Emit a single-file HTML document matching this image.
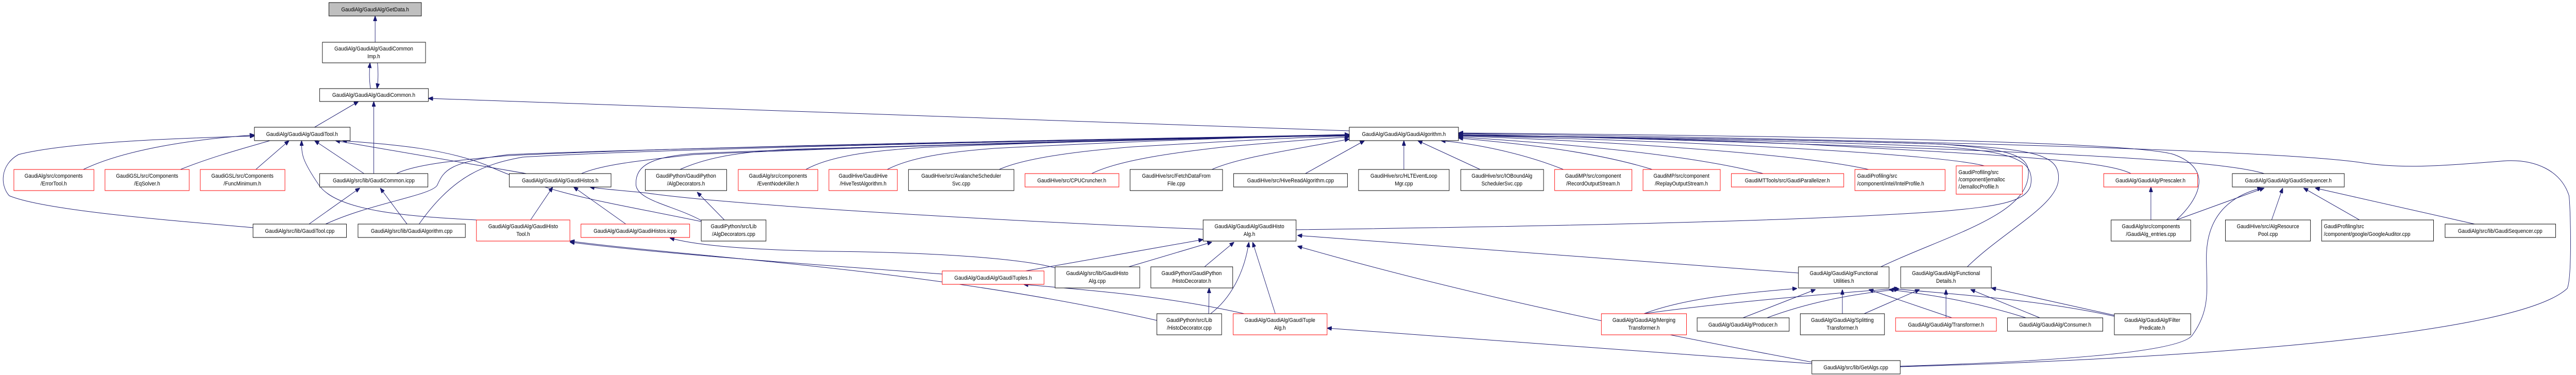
<!DOCTYPE html>
<html><head><meta charset="utf-8"><style>
html,body{margin:0;padding:0;background:#fff;width:100%;height:100%;overflow:hidden;}
svg{display:block;width:100vw;height:100vh;}
text{font-family:"Liberation Sans",Arial,sans-serif;font-size:11px;fill:#000;}
.b{fill:#fff;stroke:#000;stroke-width:1;}
.r{fill:#fff;stroke:#ff0000;stroke-width:1;}
.e{fill:none;stroke:#191970;stroke-width:1;}
</style></head><body>
<svg viewBox="0 0 5569 728" preserveAspectRatio="none" xmlns="http://www.w3.org/2000/svg" overflow="hidden">
<defs>
<marker id="a" markerWidth="10" markerHeight="8" refX="10" refY="4" orient="auto" markerUnits="userSpaceOnUse">
<path d="M0,0 L10,4 L0,8 z" fill="#191970" stroke="#191970"/>
</marker>
</defs>
<g marker-end="url(#a)" class="e">
<path d="M811,82 L811,31"/>
<path d="M801,172 C798,155 798,140 800,122"/>
<path d="M816,122 C818,140 818,155 815,172"/>
<path d="M680,247 L775,197"/>
<path d="M808,337 L808,197"/>
<path d="M2917,254 L926,191"/>
<path d="M180,329 C270,290 420,270 550,262"/>
<path d="M390,329 C470,300 560,280 610,266"/>
<path d="M553,329 L625,273"/>
<path d="M547,442 C400,430 100,410 20,380 C0,360 0,320 40,300 C150,275 400,268 550,264"/>
<path d="M787,337 L680,273"/>
<path d="M1030,427 C880,420 730,410 690,360 C652,310 652,300 652,273"/>
<path d="M1138,337 L725,273"/>
<path d="M1516,430 C1300,390 1200,380 1050,320 C950,285 830,280 740,273"/>
<path d="M668,435 L778,365"/>
<path d="M880,435 L822,365"/>
<path d="M704,435 C800,395 930,380 945,360 C960,330 970,315 1100,300 C1500,285 2600,268 2917,262"/>
<path d="M906,435 C980,340 1050,318 1130,305 C1500,285 2600,268 2917,262"/>
<path d="M857,337 C900,318 1000,310 1100,302 C1600,280 2600,268 2917,261"/>
<path d="M1257,337 C1300,320 1380,312 1500,300 C2000,280 2600,268 2917,263"/>
<path d="M1516,428 C1460,400 1380,390 1375,360 C1372,320 1410,305 1500,298 C2000,280 2600,268 2917,262"/>
<path d="M1470,329 C1530,305 1600,295 1700,290 C2200,275 2700,265 2917,262"/>
<path d="M1742,329 C1800,300 1900,292 2000,286 C2400,272 2700,265 2917,262"/>
<path d="M1918,329 C1970,305 2050,295 2150,288 C2500,272 2750,265 2917,263"/>
<path d="M2160,329 C2220,305 2350,292 2450,285 C2700,272 2820,266 2917,264"/>
<path d="M2360,337 C2420,310 2550,295 2650,285 C2800,273 2870,268 2917,266"/>
<path d="M2620,329 C2680,305 2800,290 2917,270"/>
<path d="M2822,337 L2950,273"/>
<path d="M3035,329 L3035,273"/>
<path d="M3200,329 L3065,273"/>
<path d="M3380,329 C3300,300 3200,280 3115,273"/>
<path d="M3572,329 C3450,295 3300,280 3153,268"/>
<path d="M3812,337 C3650,300 3400,280 3153,266"/>
<path d="M4040,329 C3900,300 3500,275 3153,264"/>
<path d="M4290,322 C4200,300 3700,275 3153,263"/>
<path d="M4607,337 C4550,310 4300,300 3900,280 C3600,268 3300,264 3153,262"/>
<path d="M4895,337 C4800,310 4400,290 3153,260"/>
<path d="M4705,427 C4750,390 4790,330 4700,300 C4600,270 3600,262 3153,258"/>
<path d="M4108,712 C4600,700 5430,660 5550,560 C5560,540 5558,420 5554,380 C5536,330 5480,310 5420,312 C5300,320 5200,330 5100,315 C4900,290 4000,270 3153,259"/>
<path d="M4108,711 C4500,700 4720,680 4740,650 C4780,600 4770,560 4770,500 C4770,420 4820,380 4890,365"/>
<path d="M4066,518 C4200,460 4380,420 4385,340 C4390,300 4340,290 4200,280 C3800,268 3300,265 3153,262"/>
<path d="M4253,518 C4330,450 4445,400 4450,350 C4455,300 4400,290 4200,280 C3800,268 3300,265 3153,262"/>
<path d="M2802,446 C3300,440 3900,430 4200,410 C4330,400 4380,390 4390,360 C4400,310 4350,295 4200,285 C3800,270 3300,265 3153,263"/>
<path d="M1147,427 L1195,363"/>
<path d="M1353,435 L1240,363"/>
<path d="M2601,445 C2200,430 1600,400 1400,375 C1350,370 1310,368 1275,363"/>
<path d="M1566,427 L1507,373"/>
<path d="M2037,532 C1700,510 1400,490 1232,470"/>
<path d="M2501,622 C2000,520 1500,500 1232,468"/>
<path d="M2281,520 C2200,500 2000,490 1800,488 C1600,485 1500,475 1448,462"/>
<path d="M2217,526 L2601,465"/>
<path d="M2440,518 L2620,470"/>
<path d="M2604,518 L2668,470"/>
<path d="M2617,609 C2660,580 2690,530 2700,470"/>
<path d="M2757,609 L2708,470"/>
<path d="M3888,530 L2805,457"/>
<path d="M3917,703 C3600,650 3200,580 2805,478"/>
<path d="M2613,609 L2614,559"/>
<path d="M2690,609 C2500,570 2300,560 2213,552"/>
<path d="M3917,706 L2869,637"/>
<path d="M3554,609 C3640,580 3750,570 3885,560"/>
<path d="M3554,609 C3700,590 3950,570 4105,560"/>
<path d="M3768,617 L3925,562"/>
<path d="M3820,617 C3900,590 4000,570 4105,562"/>
<path d="M3983,609 L3983,562"/>
<path d="M4030,609 L4150,562"/>
<path d="M4220,617 L4040,562"/>
<path d="M4207,617 L4207,562"/>
<path d="M4380,617 C4250,580 4150,570 4084,562"/>
<path d="M4410,617 L4260,562"/>
<path d="M4571,614 C4400,580 4200,570 4090,560"/>
<path d="M4571,612 L4305,559"/>
<path d="M4650,427 L4650,363"/>
<path d="M4705,427 L4895,365"/>
<path d="M4911,427 L4935,365"/>
<path d="M5101,427 L4980,365"/>
<path d="M5350,435 L5005,365"/>
</g>

<rect x="711" y="5" width="200" height="26" fill="#bfbfbf" stroke="#000"/>
<text x="811" y="22" text-anchor="middle">GaudiAlg/GaudiAlg/GetData.h</text>

<rect class="b" x="697" y="82" width="223" height="40"/>
<text x="808" y="98" text-anchor="middle">GaudiAlg/GaudiAlg/GaudiCommon</text>
<text x="808" y="113" text-anchor="middle">Imp.h</text>

<rect class="b" x="691" y="172" width="235" height="25"/>
<text x="808" y="188" text-anchor="middle">GaudiAlg/GaudiAlg/GaudiCommon.h</text>

<rect class="b" x="550" y="247" width="207" height="26"/>
<text x="653" y="264" text-anchor="middle">GaudiAlg/GaudiAlg/GaudiTool.h</text>

<rect class="r" x="30" y="329" width="173" height="41"/>
<text x="116" y="345" text-anchor="middle">GaudiAlg/src/components</text>
<text x="116" y="360" text-anchor="middle">/ErrorTool.h</text>

<rect class="r" x="227" y="329" width="182" height="41"/>
<text x="318" y="345" text-anchor="middle">GaudiGSL/src/Components</text>
<text x="318" y="360" text-anchor="middle">/EqSolver.h</text>

<rect class="r" x="433" y="329" width="183" height="41"/>
<text x="524" y="345" text-anchor="middle">GaudiGSL/src/Components</text>
<text x="524" y="360" text-anchor="middle">/FuncMinimum.h</text>

<rect class="b" x="691" y="337" width="234" height="26"/>
<text x="808" y="354" text-anchor="middle">GaudiAlg/src/lib/GaudiCommon.icpp</text>

<rect class="b" x="1101" y="337" width="220" height="26"/>
<text x="1211" y="354" text-anchor="middle">GaudiAlg/GaudiAlg/GaudiHistos.h</text>

<rect class="b" x="547" y="435" width="202" height="26"/>
<text x="648" y="452" text-anchor="middle">GaudiAlg/src/lib/GaudiTool.cpp</text>

<rect class="b" x="774" y="435" width="232" height="26"/>
<text x="890" y="452" text-anchor="middle">GaudiAlg/src/lib/GaudiAlgorithm.cpp</text>

<rect class="r" x="1030" y="427" width="202" height="41"/>
<text x="1131" y="443" text-anchor="middle">GaudiAlg/GaudiAlg/GaudiHisto</text>
<text x="1131" y="458" text-anchor="middle">Tool.h</text>

<rect class="r" x="1256" y="435" width="235" height="26"/>
<text x="1373" y="452" text-anchor="middle">GaudiAlg/GaudiAlg/GaudiHistos.icpp</text>

<rect class="b" x="1395" y="329" width="176" height="41"/>
<text x="1483" y="345" text-anchor="middle">GaudiPython/GaudiPython</text>
<text x="1483" y="360" text-anchor="middle">/AlgDecorators.h</text>

<rect class="r" x="1596" y="329" width="172" height="41"/>
<text x="1682" y="345" text-anchor="middle">GaudiAlg/src/components</text>
<text x="1682" y="360" text-anchor="middle">/EventNodeKiller.h</text>

<rect class="r" x="1792" y="329" width="148" height="41"/>
<text x="1866" y="345" text-anchor="middle">GaudiHive/GaudiHive</text>
<text x="1866" y="360" text-anchor="middle">/HiveTestAlgorithm.h</text>

<rect class="b" x="1964" y="329" width="228" height="41"/>
<text x="2078" y="345" text-anchor="middle">GaudiHive/src/AvalancheScheduler</text>
<text x="2078" y="360" text-anchor="middle">Svc.cpp</text>

<rect class="r" x="2216" y="337" width="203" height="26"/>
<text x="2317" y="354" text-anchor="middle">GaudiHive/src/CPUCruncher.h</text>

<rect class="b" x="2443" y="329" width="200" height="41"/>
<text x="2543" y="345" text-anchor="middle">GaudiHive/src/FetchDataFrom</text>
<text x="2543" y="360" text-anchor="middle">File.cpp</text>

<rect class="b" x="2667" y="337" width="246" height="26"/>
<text x="2790" y="354" text-anchor="middle">GaudiHive/src/HiveReadAlgorithm.cpp</text>

<rect class="b" x="1516" y="427" width="140" height="41"/>
<text x="1586" y="443" text-anchor="middle">GaudiPython/src/Lib</text>
<text x="1586" y="458" text-anchor="middle">/AlgDecorators.cpp</text>

<rect class="b" x="2601" y="427" width="201" height="41"/>
<text x="2701" y="443" text-anchor="middle">GaudiAlg/GaudiAlg/GaudiHisto</text>
<text x="2701" y="458" text-anchor="middle">Alg.h</text>

<rect class="r" x="2037" y="526" width="220" height="26"/>
<text x="2147" y="543" text-anchor="middle">GaudiAlg/GaudiAlg/GaudiTuples.h</text>

<rect class="b" x="2281" y="518" width="183" height="41"/>
<text x="2372" y="534" text-anchor="middle">GaudiAlg/src/lib/GaudiHisto</text>
<text x="2372" y="549" text-anchor="middle">Alg.cpp</text>

<rect class="b" x="2488" y="518" width="177" height="41"/>
<text x="2576" y="534" text-anchor="middle">GaudiPython/GaudiPython</text>
<text x="2576" y="549" text-anchor="middle">/HistoDecorator.h</text>

<rect class="b" x="2501" y="609" width="140" height="41"/>
<text x="2571" y="625" text-anchor="middle">GaudiPython/src/Lib</text>
<text x="2571" y="640" text-anchor="middle">/HistoDecorator.cpp</text>

<rect class="r" x="2666" y="609" width="203" height="41"/>
<text x="2767" y="625" text-anchor="middle">GaudiAlg/GaudiAlg/GaudiTuple</text>
<text x="2767" y="640" text-anchor="middle">Alg.h</text>

<rect class="b" x="2917" y="247" width="236" height="26"/>
<text x="3035" y="264" text-anchor="middle">GaudiAlg/GaudiAlg/GaudiAlgorithm.h</text>

<rect class="b" x="2937" y="329" width="196" height="41"/>
<text x="3035" y="345" text-anchor="middle">GaudiHive/src/HLTEventLoop</text>
<text x="3035" y="360" text-anchor="middle">Mgr.cpp</text>

<rect class="b" x="3158" y="329" width="179" height="41"/>
<text x="3247" y="345" text-anchor="middle">GaudiHive/src/IOBoundAlg</text>
<text x="3247" y="360" text-anchor="middle">SchedulerSvc.cpp</text>

<rect class="r" x="3361" y="329" width="167" height="41"/>
<text x="3444" y="345" text-anchor="middle">GaudiMP/src/component</text>
<text x="3444" y="360" text-anchor="middle">/RecordOutputStream.h</text>

<rect class="r" x="3552" y="329" width="167" height="41"/>
<text x="3635" y="345" text-anchor="middle">GaudiMP/src/component</text>
<text x="3635" y="360" text-anchor="middle">/ReplayOutputStream.h</text>

<rect class="r" x="3743" y="337" width="243" height="26"/>
<text x="3864" y="354" text-anchor="middle">GaudiMTTools/src/GaudiParallelizer.h</text>

<rect class="r" x="4010" y="329" width="195" height="41"/>
<text x="4015" y="345">GaudiProfiling/src</text>
<text x="4015" y="360">/component/intel/IntelProfile.h</text>

<rect class="r" x="4229" y="322" width="143" height="55"/>
<text x="4234" y="338">GaudiProfiling/src</text>
<text x="4234" y="352">/component/jemalloc</text>
<text x="4234" y="366">/JemallocProfile.h</text>

<rect class="b" x="3888" y="518" width="196" height="41"/>
<text x="3986" y="534" text-anchor="middle">GaudiAlg/GaudiAlg/Functional</text>
<text x="3986" y="549" text-anchor="middle">Utilities.h</text>

<rect class="b" x="4109" y="518" width="196" height="41"/>
<text x="4207" y="534" text-anchor="middle">GaudiAlg/GaudiAlg/Functional</text>
<text x="4207" y="549" text-anchor="middle">Details.h</text>

<rect class="r" x="3462" y="609" width="184" height="41"/>
<text x="3554" y="625" text-anchor="middle">GaudiAlg/GaudiAlg/Merging</text>
<text x="3554" y="640" text-anchor="middle">Transformer.h</text>

<rect class="b" x="3669" y="617" width="199" height="26"/>
<text x="3768" y="634" text-anchor="middle">GaudiAlg/GaudiAlg/Producer.h</text>

<rect class="b" x="3892" y="609" width="182" height="41"/>
<text x="3983" y="625" text-anchor="middle">GaudiAlg/GaudiAlg/Splitting</text>
<text x="3983" y="640" text-anchor="middle">Transformer.h</text>

<rect class="r" x="4098" y="617" width="218" height="26"/>
<text x="4207" y="634" text-anchor="middle">GaudiAlg/GaudiAlg/Transformer.h</text>

<rect class="b" x="4340" y="617" width="206" height="26"/>
<text x="4443" y="634" text-anchor="middle">GaudiAlg/GaudiAlg/Consumer.h</text>

<rect class="b" x="4571" y="609" width="165" height="41"/>
<text x="4653" y="625" text-anchor="middle">GaudiAlg/GaudiAlg/Filter</text>
<text x="4653" y="640" text-anchor="middle">Predicate.h</text>

<rect class="b" x="3917" y="700" width="191" height="26"/>
<text x="4012" y="717" text-anchor="middle">GaudiAlg/src/lib/GetAlgs.cpp</text>

<rect class="r" x="4548" y="337" width="203" height="26"/>
<text x="4649" y="354" text-anchor="middle">GaudiAlg/GaudiAlg/Prescaler.h</text>

<rect class="b" x="4826" y="337" width="242" height="26"/>
<text x="4947" y="354" text-anchor="middle">GaudiAlg/GaudiAlg/GaudiSequencer.h</text>

<rect class="b" x="4564" y="427" width="172" height="41"/>
<text x="4650" y="443" text-anchor="middle">GaudiAlg/src/components</text>
<text x="4650" y="458" text-anchor="middle">/GaudiAlg_entries.cpp</text>

<rect class="b" x="4811" y="427" width="184" height="41"/>
<text x="4903" y="443" text-anchor="middle">GaudiHive/src/AlgResource</text>
<text x="4903" y="458" text-anchor="middle">Pool.cpp</text>

<rect class="b" x="5019" y="427" width="242" height="41"/>
<text x="5024" y="443">GaudiProfiling/src</text>
<text x="5024" y="458">/component/google/GoogleAuditor.cpp</text>

<rect class="b" x="5286" y="435" width="239" height="26"/>
<text x="5405" y="452" text-anchor="middle">GaudiAlg/src/lib/GaudiSequencer.cpp</text>
</svg>
</body></html>
